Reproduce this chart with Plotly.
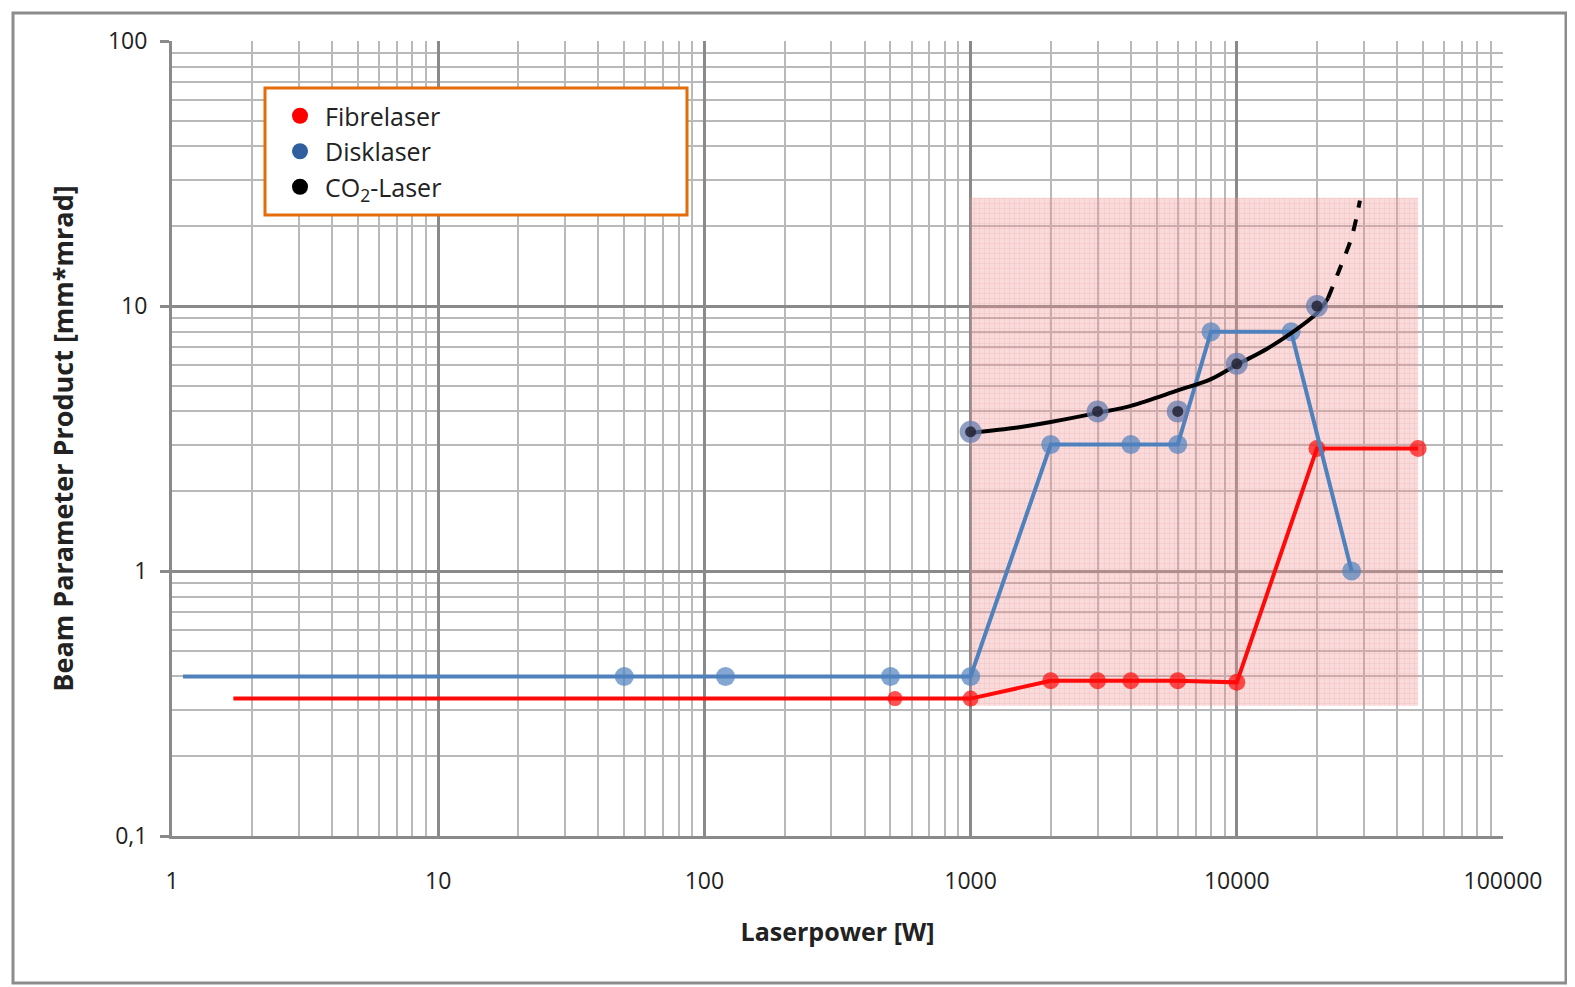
import plotly.graph_objects as go

# ---------------- data ----------------
fibre_power = [1.7, 520, 1000, 2000, 3000, 4000, 6000, 10000, 20000, 48000]
fibre_bpp   = [0.33, 0.33, 0.33, 0.385, 0.385, 0.385, 0.385, 0.38, 2.9, 2.9]
fibre_marker = [0, 15, 16, 17, 17, 17, 17, 17, 17, 17]   # first point: line start, no marker

disk_power = [1.1, 50, 120, 500, 1000, 2000, 4000, 6000, 8000, 16000, 27000]
disk_bpp   = [0.4, 0.4, 0.4, 0.4, 0.4, 3.0, 3.0, 3.0, 8.0, 8.0, 1.0]
disk_marker = [0, 19, 19, 19, 19, 19, 19, 19, 19, 19, 19]

co2_point_power = [1000, 3000, 6000, 10000, 20000]
co2_point_bpp   = [3.35, 4.0, 4.0, 6.05, 10.0]

co2_curve_power = [1000, 1500, 2000, 3000, 4000, 6000, 8000, 10000, 13000, 16000, 20000, 22000]
co2_curve_bpp   = [3.32, 3.48, 3.65, 3.95, 4.2, 4.8, 5.3, 6.0, 6.9, 7.9, 9.4, 10.7]
co2_dash_power  = [22000, 24000, 27000, 29000]
co2_dash_bpp    = [10.7, 13.3, 18.2, 25.0]

zone_power = [1000, 48000, 48000, 1000, 1000]
zone_bpp   = [0.31, 0.31, 25.6, 25.6, 0.31]

x_tickvals = [1, 10, 100, 1000, 10000, 100000]
x_ticktext = ["1", "10", "100", "1000", "10000", "100000"]
y_tickvals = [0.1, 1, 10, 100]
y_ticktext = ["0,1", "1", "10", "100"]

# ---------------- styles ----------------
FONT = "Open Sans"
RED = "#ff0a0a"
BLUE = "#4f81bd"
MAJOR = "#8a8a8a"
MINOR = "#b9b9b9"

# plot area in page pixels (page has an 8px body margin)
PL, PR, PT, PB = 172, 1503, 41, 836
PW, PH = PR - PL, PB - PT


def px(x):
    return (x - PL) / PW


def py(y):
    return (PB - y) / PH


fig = go.Figure()

# highlighted zone with fine grid pattern
fig.add_trace(go.Scatter(
    x=zone_power, y=zone_bpp, mode="lines", fill="toself",
    line=dict(width=0), fillcolor="rgba(240,150,150,0.35)",
    fillpattern=dict(shape="+", size=5, solidity=0.2,
                     fgcolor="rgba(215,120,120,0.5)", fillmode="overlay"),
    hoverinfo="skip", showlegend=False))

fig.add_trace(go.Scatter(
    x=fibre_power, y=fibre_bpp, mode="lines+markers", name="Fibrelaser",
    line=dict(color=RED, width=4),
    marker=dict(color=RED, size=fibre_marker, line=dict(width=0)),
    showlegend=False))

fig.add_trace(go.Scatter(
    x=disk_power, y=disk_bpp, mode="lines+markers", name="Disklaser",
    line=dict(color=BLUE, width=4),
    marker=dict(color=BLUE, size=disk_marker, line=dict(width=0)),
    showlegend=False))

fig.add_trace(go.Scatter(
    x=co2_curve_power, y=co2_curve_bpp, mode="lines",
    line=dict(color="black", width=4, shape="spline"),
    showlegend=False, hoverinfo="skip"))
fig.add_trace(go.Scatter(
    x=co2_dash_power, y=co2_dash_bpp, mode="lines",
    line=dict(color="black", width=4, dash="dash", shape="spline"),
    showlegend=False, hoverinfo="skip"))

# CO2 points: bluish halo + dark centre
fig.add_trace(go.Scatter(
    x=co2_point_power, y=co2_point_bpp, mode="markers",
    marker=dict(color="rgba(105,125,175,0.75)", size=22, line=dict(width=0)),
    showlegend=False, hoverinfo="skip"))
fig.add_trace(go.Scatter(
    x=co2_point_power, y=co2_point_bpp, mode="markers", name="CO2-Laser",
    marker=dict(color="rgba(35,35,50,0.85)", size=11, line=dict(width=0)),
    showlegend=False))

# legend entries (markers only)
for i, (nm, col) in enumerate([("Fibrelaser", "#ff0000"), ("Disklaser", "#2f5f9e"),
                               ("CO<sub>2</sub>-Laser", "#000000")]):
    fig.add_trace(go.Scatter(x=[None], y=[None], mode="markers", name=nm,
                             legendgroup=f"g{i}",
                             marker=dict(color=col, size=17)))

axis_common = dict(
    type="log", showgrid=True, gridcolor=MAJOR, gridwidth=3,
    zeroline=False, showline=True, linecolor=MAJOR, linewidth=3,
    tickfont=dict(family=FONT, size=23, color="#222"),
)

fig.update_xaxes(
    **axis_common, range=[0, 5], tickvals=x_tickvals, ticktext=x_ticktext,
    ticks="", ticklabelstandoff=22,
    minor=dict(dtick="D1", showgrid=True, gridcolor=MINOR, gridwidth=2, ticks=""),
    title=dict(text="<b>Laserpower [W]</b>", font=dict(family=FONT, size=25, color="#222"),
               standoff=29),
)
fig.update_yaxes(
    **axis_common, range=[-1, 2], tickvals=y_tickvals, ticktext=y_ticktext,
    ticks="outside", ticklen=9, tickwidth=3, tickcolor=MAJOR, ticklabelstandoff=8,
    minor=dict(dtick="D1", showgrid=True, gridcolor=MINOR, gridwidth=2, ticks=""),
    title=dict(text="<b>Beam Parameter Product [mm*mrad]</b>",
               font=dict(family=FONT, size=27, color="#222"), standoff=27),
)

# legend box and outer frame
fig.add_shape(type="rect", xref="paper", yref="paper",
              x0=px(265), x1=px(687), y0=py(215), y1=py(88),
              line=dict(color="#e46c0a", width=3), fillcolor="white", layer="above")
fig.add_shape(type="rect", xref="paper", yref="paper",
              x0=px(13), x1=px(1566), y0=py(983), y1=py(13),
              line=dict(color="#8c8c8c", width=3), fillcolor="rgba(0,0,0,0)", layer="below")

fig.update_layout(
    width=1567, height=979,
    margin=dict(l=PL - 8, r=1567 - (PR - 8), t=PT - 8, b=979 - (PB - 8)),
    paper_bgcolor="white", plot_bgcolor="white",
    font=dict(family=FONT, size=20, color="#222"),
    showlegend=True,
    legend=dict(x=px(275), y=py(93), xanchor="left", yanchor="top",
                bgcolor="rgba(0,0,0,0)", borderwidth=0,
                font=dict(family=FONT, size=25, color="#222"),
                itemwidth=40, itemsizing="trace", tracegroupgap=0),
)

fig.write_html("out.html")
